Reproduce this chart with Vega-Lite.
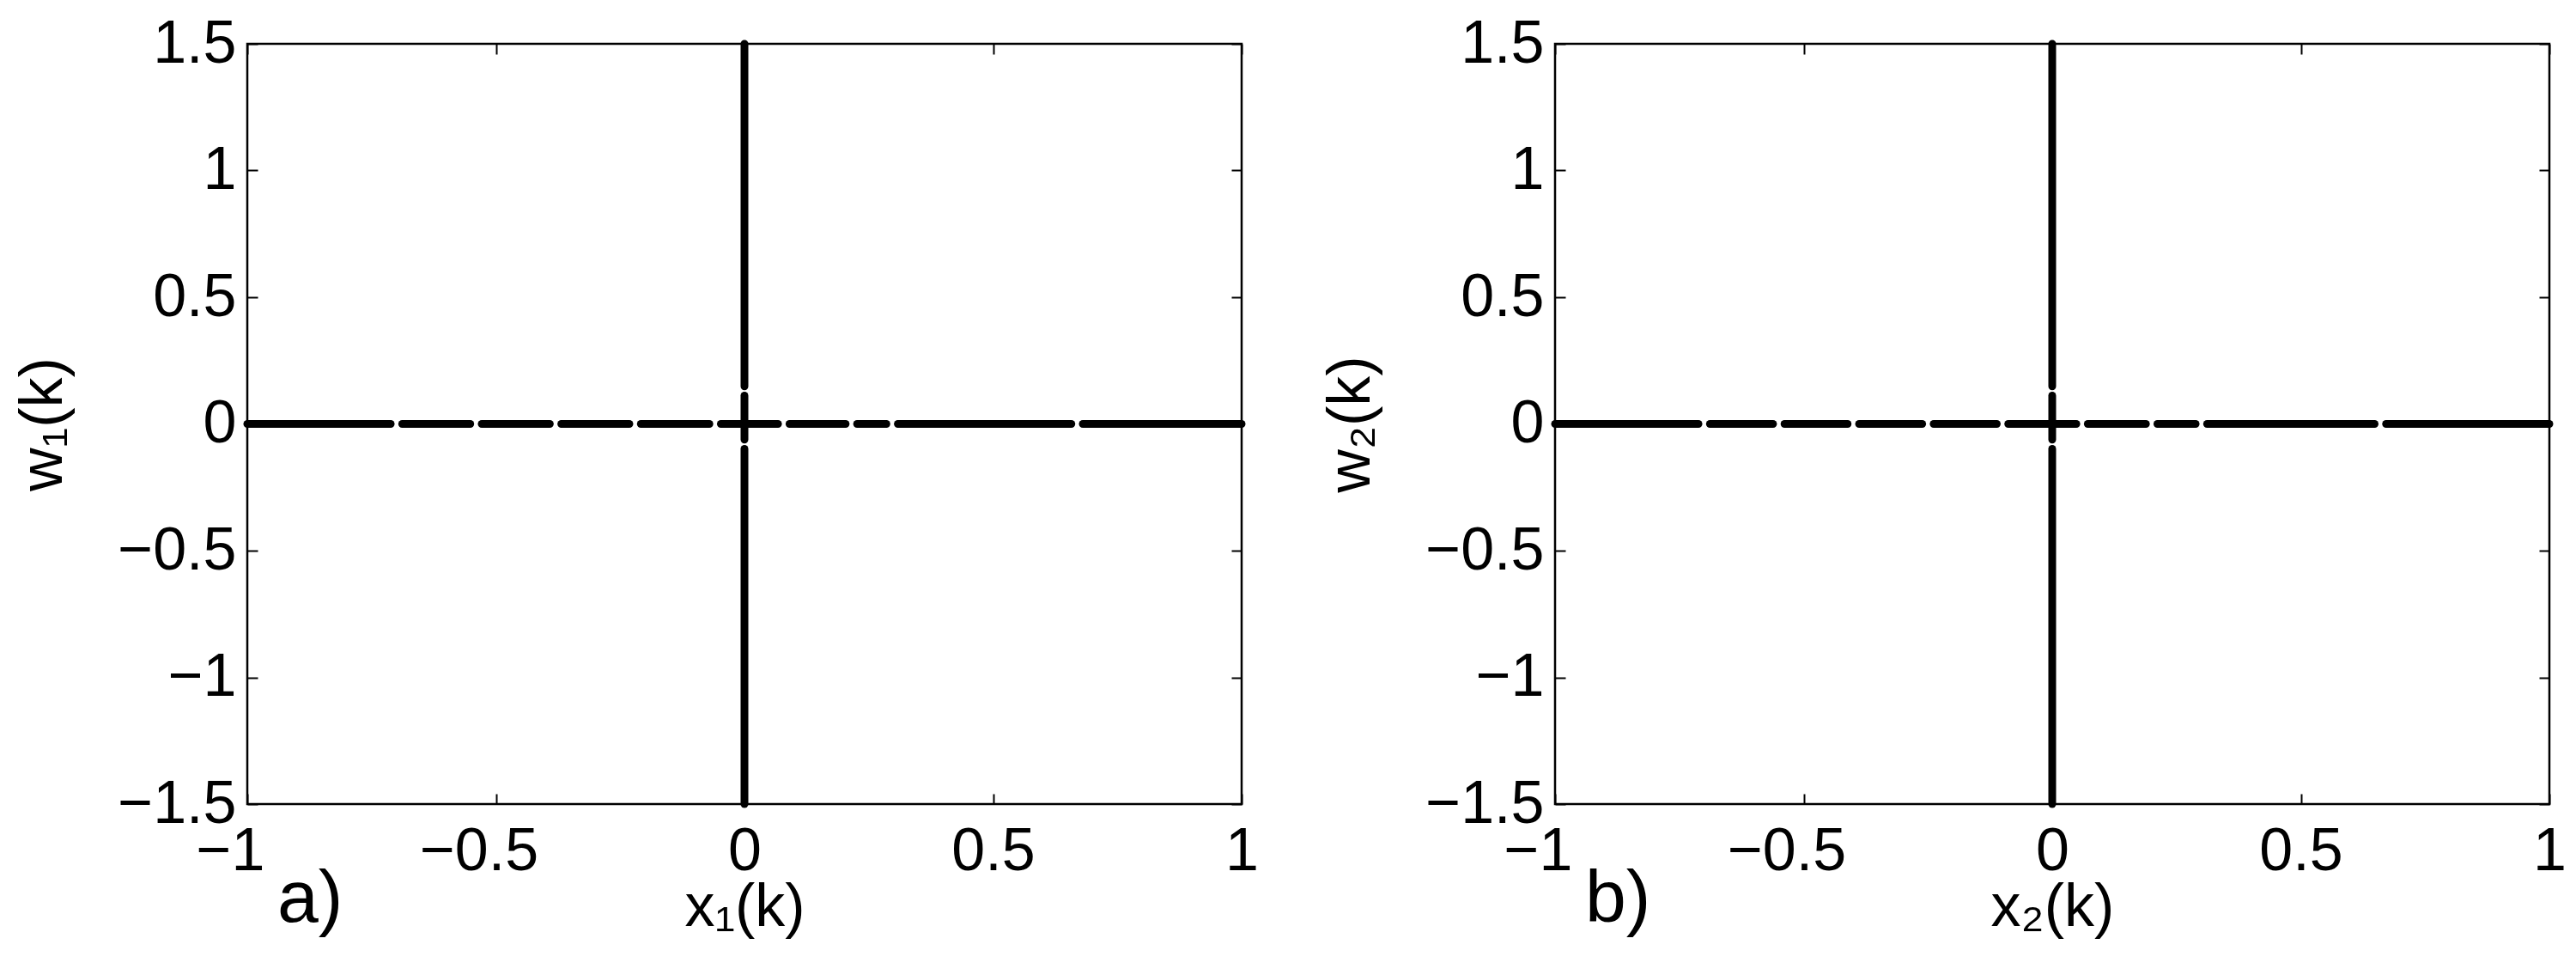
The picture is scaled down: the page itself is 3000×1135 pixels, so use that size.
{
  "$schema": "https://vega.github.io/schema/vega-lite/v6.json",
  "autosize": "none",
  "padding": {"left": 288, "top": 51, "right": 2712, "bottom": 1084},
  "bounds": "flush",
  "spacing": 365,
  "background": "white",
  "config": {
    "view": {"stroke": "black", "strokeWidth": 2.5},
    "axis": {
      "domain": false, "grid": false,
      "ticks": true, "tickSize": -12, "tickWidth": 2, "tickColor": "black",
      "labelFont": "Liberation Sans", "labelFontSize": 70, "labelColor": "black",
      "labelFlush": false, "labelOverlap": false,
      "titleFont": "Liberation Sans", "titleFontSize": 70, "titleFontWeight": "normal", "titleColor": "black"
    }
  },
  "data": {"values": [
    {"panel": "a", "dir": "h", "x1": -1.0, "x2": -0.7115, "y1": 0, "y2": 0},
    {"panel": "a", "dir": "h", "x1": -0.6885, "x2": -0.5515, "y1": 0, "y2": 0},
    {"panel": "a", "dir": "h", "x1": -0.5285, "x2": -0.3915, "y1": 0, "y2": 0},
    {"panel": "a", "dir": "h", "x1": -0.3685, "x2": -0.2315, "y1": 0, "y2": 0},
    {"panel": "a", "dir": "h", "x1": -0.2085, "x2": -0.0705, "y1": 0, "y2": 0},
    {"panel": "a", "dir": "h", "x1": -0.0475, "x2": 0.0675, "y1": 0, "y2": 0},
    {"panel": "a", "dir": "h", "x1": 0.0905, "x2": 0.2035, "y1": 0, "y2": 0},
    {"panel": "a", "dir": "h", "x1": 0.2265, "x2": 0.2855, "y1": 0, "y2": 0},
    {"panel": "a", "dir": "h", "x1": 0.3085, "x2": 0.6575, "y1": 0, "y2": 0},
    {"panel": "a", "dir": "h", "x1": 0.6805, "x2": 1.0, "y1": 0, "y2": 0},
    {"panel": "a", "dir": "v", "x1": 0, "x2": 0, "y1": -1.5, "y2": -0.098},
    {"panel": "a", "dir": "v", "x1": 0, "x2": 0, "y1": -0.062, "y2": 0.112},
    {"panel": "a", "dir": "v", "x1": 0, "x2": 0, "y1": 0.148, "y2": 1.5},
    {"panel": "b", "dir": "h", "x1": -1.0, "x2": -0.7115, "y1": 0, "y2": 0},
    {"panel": "b", "dir": "h", "x1": -0.6885, "x2": -0.5615, "y1": 0, "y2": 0},
    {"panel": "b", "dir": "h", "x1": -0.5385, "x2": -0.4115, "y1": 0, "y2": 0},
    {"panel": "b", "dir": "h", "x1": -0.3885, "x2": -0.2615, "y1": 0, "y2": 0},
    {"panel": "b", "dir": "h", "x1": -0.2385, "x2": -0.1115, "y1": 0, "y2": 0},
    {"panel": "b", "dir": "h", "x1": -0.0885, "x2": 0.0485, "y1": 0, "y2": 0},
    {"panel": "b", "dir": "h", "x1": 0.0715, "x2": 0.1885, "y1": 0, "y2": 0},
    {"panel": "b", "dir": "h", "x1": 0.2115, "x2": 0.2885, "y1": 0, "y2": 0},
    {"panel": "b", "dir": "h", "x1": 0.3115, "x2": 0.6485, "y1": 0, "y2": 0},
    {"panel": "b", "dir": "h", "x1": 0.6715, "x2": 1.0, "y1": 0, "y2": 0},
    {"panel": "b", "dir": "v", "x1": 0, "x2": 0, "y1": -1.5, "y2": -0.098},
    {"panel": "b", "dir": "v", "x1": 0, "x2": 0, "y1": -0.062, "y2": 0.112},
    {"panel": "b", "dir": "v", "x1": 0, "x2": 0, "y1": 0.148, "y2": 1.5}
  ]},
  "hconcat": [
    {
      "width": 1158, "height": 885,
      "title": {"text": "a)", "orient": "bottom", "anchor": "start", "frame": "group", "font": "Liberation Sans", "fontSize": 86, "fontWeight": "normal", "color": "black", "baseline": "alphabetic", "offset": -18, "dx": 35},
      "layer": [
        {
          "transform": [{"filter": "datum.panel == 'a' && datum.dir == 'h'"}],
          "mark": {"type": "rule", "strokeWidth": 9, "strokeCap": "round", "color": "black"},
          "encoding": {
            "x": {"field": "x1", "type": "quantitative", "scale": {"domain": [-1, 1], "nice": false, "zero": false},
                  "axis": {"orient": "bottom", "values": [-1, -0.5, 0, 0.5, 1], "format": "~g", "labelPadding": 33, "title": "x₁(k)", "titlePadding": -4,
                           "labelOffset": {"condition": {"test": "datum.value < 0", "value": -20}, "value": 0}}},
            "x2": {"field": "x2"},
            "y": {"field": "y1", "type": "quantitative", "scale": {"domain": [-1.5, 1.5], "nice": false, "zero": false},
                  "axis": {"orient": "left", "values": [-1.5, -1, -0.5, 0, 0.5, 1, 1.5], "format": "~g", "labelPadding": 25, "title": "w₁(k)", "titlePadding": 50}},
            "y2": {"field": "y2"}
          }
        },
        {
          "transform": [{"filter": "datum.panel == 'a' && datum.dir == 'v'"}],
          "mark": {"type": "rule", "strokeWidth": 9, "strokeCap": "round", "color": "black"},
          "encoding": {
            "x": {"field": "x1", "type": "quantitative", "axis": {"orient": "top", "values": [-1, -0.5, 0, 0.5, 1], "labels": false, "title": null}},
            "x2": {"field": "x2"},
            "y": {"field": "y1", "type": "quantitative", "axis": {"orient": "right", "values": [-1.5, -1, -0.5, 0, 0.5, 1, 1.5], "labels": false, "title": null}},
            "y2": {"field": "y2"}
          }
        }
      ],
      "resolve": {"axis": {"x": "independent", "y": "independent"}}
    },
    {
      "width": 1158, "height": 885,
      "title": {"text": "b)", "orient": "bottom", "anchor": "start", "frame": "group", "font": "Liberation Sans", "fontSize": 86, "fontWeight": "normal", "color": "black", "baseline": "alphabetic", "offset": -18, "dx": 35},
      "layer": [
        {
          "transform": [{"filter": "datum.panel == 'b' && datum.dir == 'h'"}],
          "mark": {"type": "rule", "strokeWidth": 9, "strokeCap": "round", "color": "black"},
          "encoding": {
            "x": {"field": "x1", "type": "quantitative", "scale": {"domain": [-1, 1], "nice": false, "zero": false},
                  "axis": {"orient": "bottom", "values": [-1, -0.5, 0, 0.5, 1], "format": "~g", "labelPadding": 33, "title": "x₂(k)", "titlePadding": -4,
                           "labelOffset": {"condition": {"test": "datum.value < 0", "value": -20}, "value": 0}}},
            "x2": {"field": "x2"},
            "y": {"field": "y1", "type": "quantitative", "scale": {"domain": [-1.5, 1.5], "nice": false, "zero": false},
                  "axis": {"orient": "left", "values": [-1.5, -1, -0.5, 0, 0.5, 1, 1.5], "format": "~g", "labelPadding": 25, "title": "w₂(k)", "titlePadding": 50}},
            "y2": {"field": "y2"}
          }
        },
        {
          "transform": [{"filter": "datum.panel == 'b' && datum.dir == 'v'"}],
          "mark": {"type": "rule", "strokeWidth": 9, "strokeCap": "round", "color": "black"},
          "encoding": {
            "x": {"field": "x1", "type": "quantitative", "axis": {"orient": "top", "values": [-1, -0.5, 0, 0.5, 1], "labels": false, "title": null}},
            "x2": {"field": "x2"},
            "y": {"field": "y1", "type": "quantitative", "axis": {"orient": "right", "values": [-1.5, -1, -0.5, 0, 0.5, 1, 1.5], "labels": false, "title": null}},
            "y2": {"field": "y2"}
          }
        }
      ],
      "resolve": {"axis": {"x": "independent", "y": "independent"}}
    }
  ]
}
